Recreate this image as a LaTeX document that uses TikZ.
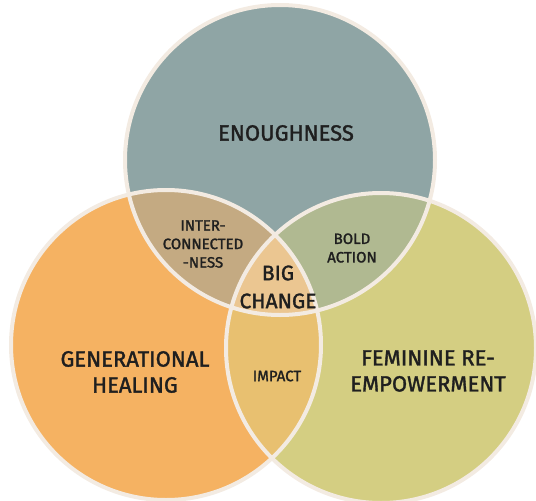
\documentclass[tikz,border=0pt]{standalone}
\usepackage{fontspec}
\setmainfont{Fira Sans}[BoldFont={Fira Sans}, BoldFeatures={FakeBold=1.6}]
\usepackage{tikz}
\definecolor{slate}{RGB}{143,165,165}
\definecolor{peach}{RGB}{245,178,98}
\definecolor{olive}{RGB}{212,206,130}
\definecolor{tan}{RGB}{196,170,130}
\definecolor{sage}{RGB}{176,185,145}
\definecolor{honey}{RGB}{232,192,112}
\definecolor{core}{RGB}{235,198,145}
\definecolor{rim}{RGB}{243,235,226}
\tikzset{rimline/.style={draw=rim, line width=4pt},
big/.style={font=\fontsize{22}{26}\selectfont\bfseries, align=center, text=black!88},
small/.style={font=\fontsize{15}{18.5}\selectfont\bfseries, align=center, text=black!88},
mid/.style={font=\fontsize{21}{28}\selectfont\bfseries, align=center, text=black!88}}

\begin{document}
\begin{tikzpicture}[x=1pt,y=-1pt]
\useasboundingbox (0,0) rectangle (536,501);
% circle centres
\coordinate (top) at (280,160);
\coordinate (left) at (166,345);
\coordinate (right) at (381,348);
\def\rad{155}

% base discs
\fill[slate] (top) circle (\rad);
\fill[peach] (left) circle (\rad);
\fill[olive] (right) circle (\rad);

% pairwise overlaps
\begin{scope}
  \clip (top) circle (\rad);
  \fill[tan] (left) circle (\rad);
  \fill[sage] (right) circle (\rad);
\end{scope}
\begin{scope}
  \clip (left) circle (\rad);
  \fill[honey] (right) circle (\rad);
  \clip (right) circle (\rad);
  \fill[core] (top) circle (\rad);
\end{scope}

% outlines
\foreach \c in {top,left,right}
  \draw[rimline] (\c) circle (\rad);

%labels
\node[big] (enough) at (286,133) {ENOUGHNESS};
\node[big] (heal) at (135,372) {GENERATIONAL\\HEALING};
\node[big] (fem) at (428,371) {FEMININE RE-\\EMPOWERMENT};
\node[small] (inter) at (203,244) {INTER-\\CONNECTED\\-NESS};
\node[small] (bold) at (352,248) {BOLD\\ACTION};
\node[small] (impact) at (277,376) {IMPACT};
\node[mid] (change) at (278,287) {BIG\\CHANGE};

\end{tikzpicture}
\end{document}
